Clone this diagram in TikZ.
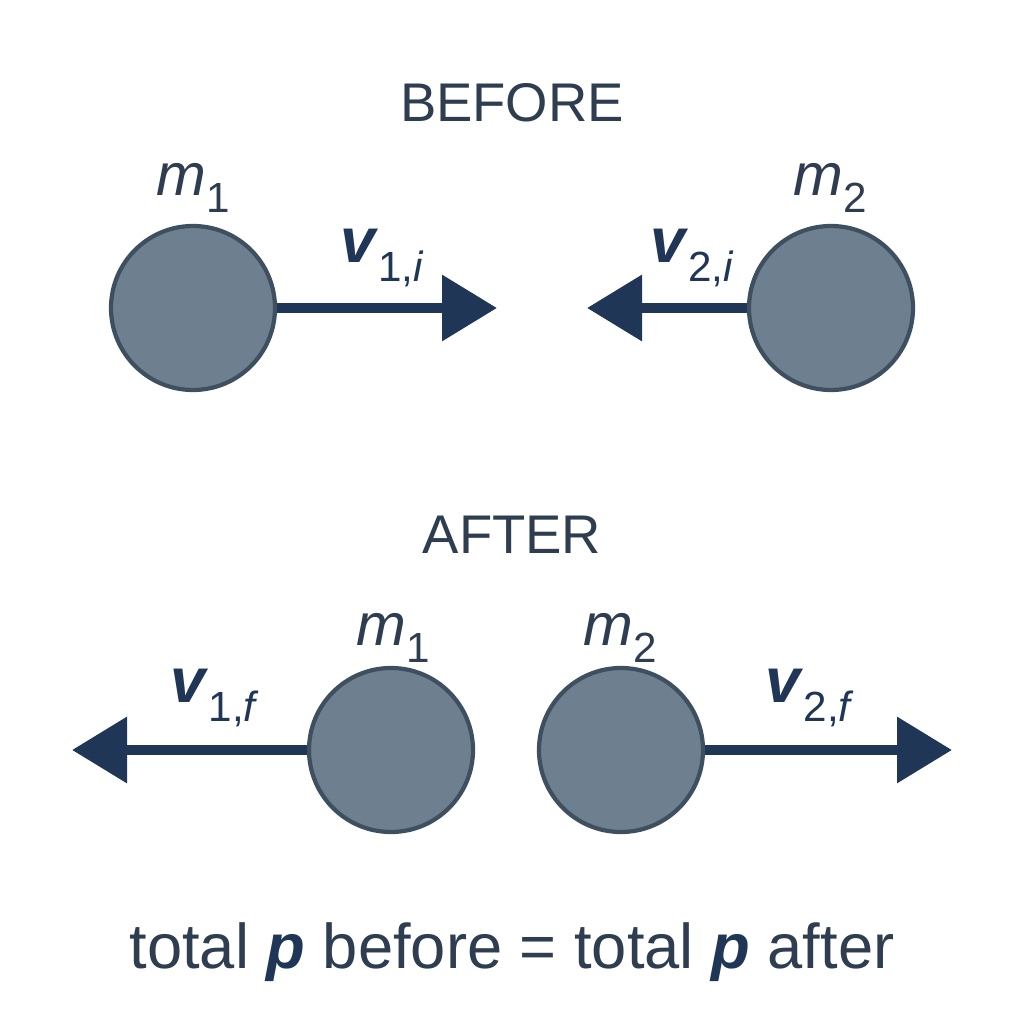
\documentclass[tikz,border=0pt]{standalone}
\usepackage{fontspec}
\setmainfont{Liberation Sans}
\usetikzlibrary{arrows.meta}
\definecolor{ballfill}{HTML}{6E808F}
\definecolor{balledge}{HTML}{3E4F5F}
\definecolor{arrowblue}{HTML}{1F3656}
\definecolor{labeltext}{HTML}{2E3E50}
\newcommand{\lowidx}[1]{\raisebox{-0.55ex}{\fontsize{12}{12}\selectfont #1}}
\tikzset{
	ball/.style={circle,draw=balledge,fill=ballfill,line width=1.2pt,minimum size=1.64cm,inner sep=0pt},
	velocity/.style={->,draw=arrowblue,line width=0.1cm},
	masslabel/.style={text=labeltext,font=\fontsize{17}{17}\selectfont},
	vellabel/.style={text=arrowblue,font=\fontsize{18}{18}\selectfont},
	heading/.style={text=labeltext,font=\fontsize{15.5}{15.5}\selectfont}
}
\begin{document}
\begin{tikzpicture}[>={Triangle[length=0.55cm,width=0.64cm]}]
	\useasboundingbox[fill=white] (0,0) rectangle (10.24,10.24);

	% Before
	\node[heading] (before) at (5.12,9.21) {BEFORE};
	\node[ball] (b1) at (1.93,7.16) {};
	\node[ball] (b2) at (8.31,7.16) {};
	\coordinate (b1tip) at (4.97,7.16);
	\coordinate (b2tip) at (5.87,7.16);
	\draw[velocity] (b1.east) -- (b1tip);
	\draw[velocity] (b2.west) -- (b2tip);
	\node[masslabel] (b1m) at (1.93,8.36) {\textit{m}\lowidx{1}};
	\node[masslabel] (b2m) at (8.30,8.36) {\textit{m}\lowidx{2}};
	\node[vellabel] (b1v) at (3.82,7.66) {\textbf{\textit{v}}\lowidx{1,\textit{i}}};
	\node[vellabel] (b2v) at (6.92,7.66) {\textbf{\textit{v}}\lowidx{2,\textit{i}}};

	% After
	\node[heading] (after) at (5.12,4.89) {AFTER};
	\node[ball] (a1) at (3.91,2.74) {};
	\node[ball] (a2) at (6.21,2.74) {};
	\coordinate (a1tip) at (0.72,2.74);
	\coordinate (a2tip) at (9.52,2.74);
	\draw[velocity] (a1.west) -- (a1tip);
	\draw[velocity] (a2.east) -- (a2tip);
	\node[masslabel] (a1m) at (3.93,3.86) {\textit{m}\lowidx{1}};
	\node[masslabel] (a2m) at (6.20,3.86) {\textit{m}\lowidx{2}};
	\node[vellabel] (a1v) at (2.15,3.26) {\textbf{\textit{v}}\lowidx{1,\textit{f}}};
	\node[vellabel] (a2v) at (8.10,3.26) {\textbf{\textit{v}}\lowidx{2,\textit{f}}};

	% Conservation
	\node[heading,font=\fontsize{18}{18}\selectfont] (total) at (5.12,0.72)
		{total \textcolor{arrowblue}{\textbf{\textit{p}}} before = total \textcolor{arrowblue}{\textbf{\textit{p}}} after};
\end{tikzpicture}
\end{document}
